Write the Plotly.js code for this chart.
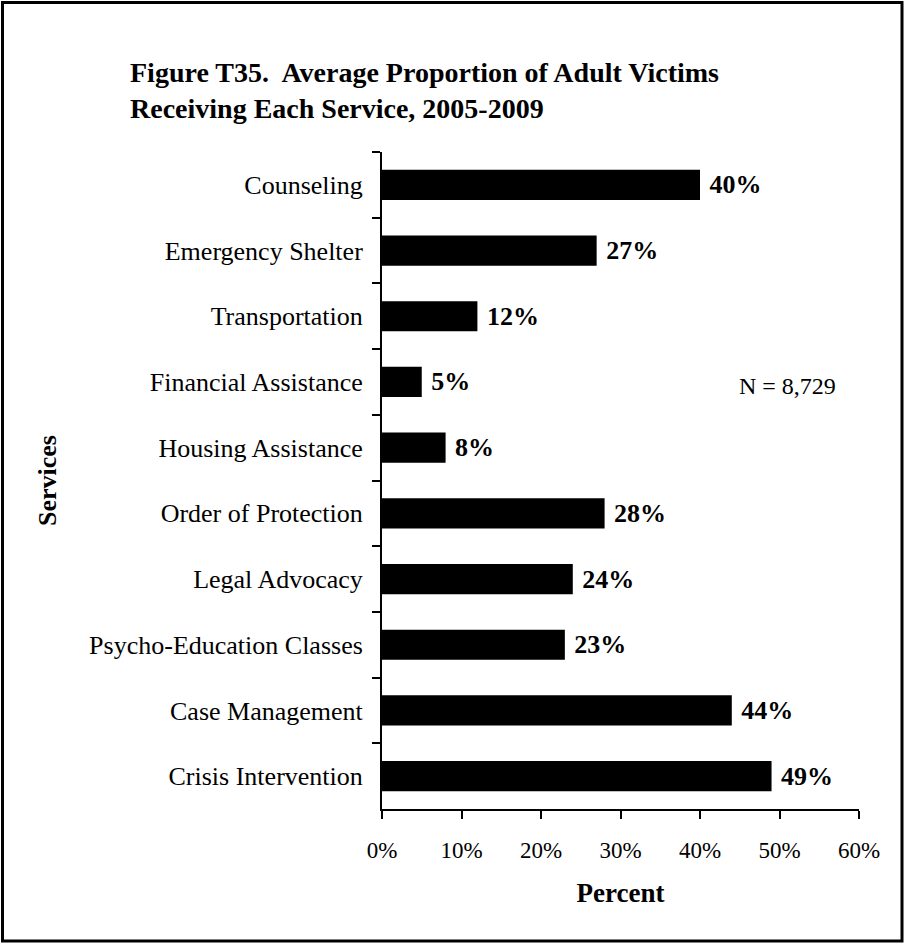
<!DOCTYPE html>
<html>
<head>
<meta charset="utf-8">
<script src="https://cdn.plot.ly/plotly-3.0.1.min.js"></script>
<style>
  html, body { margin: 0; padding: 0; background: #fff; }
  #chart { width: 905px; height: 944px; }
</style>
</head>
<body>
<div id="chart"></div>
<script>
const services = [
  "Counseling",
  "Emergency Shelter",
  "Transportation",
  "Financial Assistance",
  "Housing Assistance",
  "Order of Protection",
  "Legal Advocacy",
  "Psycho-Education Classes",
  "Case Management",
  "Crisis Intervention"
];
const percents = [40, 27, 12, 5, 8, 28, 24, 23, 44, 49];
const xTickValues = [0, 10, 20, 30, 40, 50, 60];
const xTickLabels = ["0%", "10%", "20%", "30%", "40%", "50%", "60%"];

const W = 905, H = 944;
const M = { l: 382, r: 46, t: 152, b: 135 };
const pw = W - M.l - M.r, ph = H - M.t - M.b;
const px = v => (v - M.l) / pw;
const py = v => (H - M.b - v) / ph;

const serif = "'Liberation Serif', 'Times New Roman', Times, serif";

const trace = {
  type: "bar",
  orientation: "h",
  y: services,
  x: percents,
  marker: { color: "#000000", line: { width: 0 } },
  text: percents.map(v => "\u00a0" + v + "%"),
  textposition: "outside",
  textfont: { family: serif, size: 26, color: "#000", weight: "bold" },
  cliponaxis: false,
  hoverinfo: "skip"
};

const layout = {
  width: W, height: H,
  margin: M,
  paper_bgcolor: "#fff",
  plot_bgcolor: "#fff",
  showlegend: false,
  bargap: 0.54,
  font: { family: serif, color: "#000" },
  title: {
    text: "<b>Figure T35.  Average Proportion of Adult Victims<br>Receiving Each Service, 2005-2009</b>",
    font: { family: serif, size: 28, color: "#000" },
    x: 130 / W, xref: "container", xanchor: "left",
    y: 1 - 82 / H, yref: "container", yanchor: "top"
  },
  xaxis: {
    range: [0, 60],
    tickmode: "array",
    tickvals: xTickValues,
    ticktext: xTickLabels,
    ticks: "outside", ticklen: 8, tickwidth: 2, tickcolor: "#000",
    showline: true, linecolor: "#000", linewidth: 2,
    showgrid: false, zeroline: false,
    tickfont: { family: serif, size: 23, color: "#000" },
    ticklabelstandoff: 11,
    title: { text: "<b>Percent</b>", font: { family: serif, size: 27, color: "#000" }, standoff: 22 },
    fixedrange: true
  },
  yaxis: {
    type: "category",
    autorange: "reversed",
    ticks: "outside", ticklen: 8, tickwidth: 2, tickcolor: "#000",
    tickson: "boundaries",
    showline: true, linecolor: "#000", linewidth: 2,
    showgrid: false, zeroline: false,
    tickfont: { family: serif, size: 26, color: "#000" },
    ticklabelstandoff: 12,
    title: { text: "<b>Services</b>", font: { family: serif, size: 26, color: "#000" }, standoff: 25 },
    fixedrange: true
  },
  annotations: [
    {
      text: "N = 8,729",
      xref: "paper", yref: "paper",
      x: px(787), y: py(386),
      xanchor: "center", yanchor: "middle",
      showarrow: false,
      font: { family: serif, size: 24, color: "#000" }
    }
  ],
  shapes: [
    {
      type: "rect", xref: "paper", yref: "paper",
      x0: px(2.5), x1: px(902), y0: py(941), y1: py(2.5),
      line: { color: "#000", width: 3 },
      fillcolor: "rgba(0,0,0,0)",
      layer: "below"
    }
  ]
};

Plotly.newPlot("chart", [trace], layout, { displayModeBar: false, staticPlot: true });
</script>
</body>
</html>
